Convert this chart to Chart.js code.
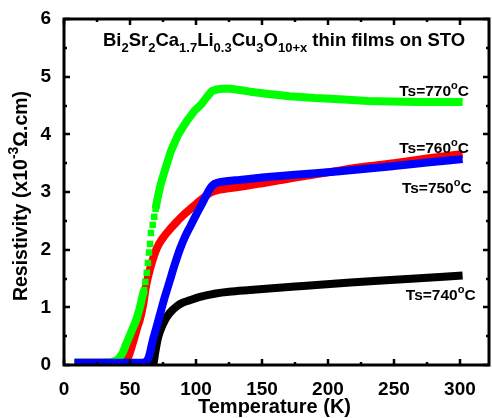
<!DOCTYPE html>
<html>
<head>
<meta charset="utf-8">
<script src="https://cdn.jsdelivr.net/npm/chart.js@4.4.1/dist/chart.umd.min.js"></script>
<style>
  html, body { margin: 0; padding: 0; background: #fff; }
  #wrap { width: 492px; height: 418px; position: relative; }
</style>
</head>
<body>
<div id="wrap"><canvas id="c" width="492" height="418"></canvas></div>
<script>
// ---- Data ----
const xTicks = [0, 50, 100, 150, 200, 250, 300];
const yTicks = [0, 1, 2, 3, 4, 5, 6];

// Ts = 770 °C (green)
const tempG = [8, 20, 30, 36, 40, 42.5, 44.7, 47, 50, 52.5, 55, 57.5, 59,
  60.6, 61.6, 62.7, 63.6, 64.4, 65.2, 65.9, 67.2, 68.4, 69.4,
  70.7, 73.2, 77, 81, 86.6, 93, 99, 104, 108, 112, 116, 120, 126, 133, 141, 155, 171, 190, 209, 230, 247, 270, 302];
const rhoG = [0.04, 0.04, 0.04, 0.05, 0.08, 0.14, 0.22, 0.36, 0.52, 0.66, 0.8, 1.0, 1.15,
  1.30, 1.44, 1.60, 1.77, 1.95, 2.10, 2.29, 2.43, 2.57, 2.71,
  2.87, 3.13, 3.42, 3.71, 4.0, 4.23, 4.41, 4.52, 4.64, 4.75, 4.78, 4.79, 4.79, 4.77, 4.74, 4.70, 4.66, 4.63, 4.61, 4.58, 4.57, 4.56, 4.56];
// range of the green curve drawn as separate square symbols
const greenSymbolsFrom = 60.6, greenSymbolsTo = 69.4;

// Ts = 760 °C (red)
const tempR = [8, 20, 30, 40, 46, 48, 50, 53, 55.5, 57.6, 60, 62, 65, 69, 72, 75.5, 79, 84, 90.4, 95.5, 101, 106.8, 112, 118, 133, 150, 175, 200, 225, 250, 275, 302];
const rhoR = [0.04, 0.04, 0.04, 0.04, 0.05, 0.1, 0.22, 0.45, 0.65, 0.8, 1.05, 1.35, 1.65, 1.95, 2.1, 2.22, 2.32, 2.45, 2.6, 2.7, 2.81, 2.92, 3.0, 3.04, 3.09, 3.15, 3.25, 3.34, 3.43, 3.5, 3.58, 3.66];

// Ts = 750 °C (blue)
const tempB = [8, 20, 30, 40, 50, 60, 62, 64, 65, 67, 70, 73, 76, 80, 84, 88, 92, 96, 100, 104, 108, 111, 114, 118, 124, 133, 150, 175, 209, 250, 275, 302];
const rhoB = [0.04, 0.04, 0.04, 0.04, 0.04, 0.04, 0.06, 0.12, 0.2, 0.4, 0.65, 0.9, 1.15, 1.45, 1.75, 2.02, 2.24, 2.42, 2.6, 2.77, 2.95, 3.07, 3.14, 3.17, 3.19, 3.21, 3.25, 3.3, 3.36, 3.45, 3.51, 3.57];

// Ts = 740 °C (black)
const tempK = [8, 30, 50, 60, 67, 68, 69, 71, 73, 76.5, 80, 85.6, 90, 95, 103, 115, 125, 141, 175, 217, 260, 302];
const rhoK = [0.02, 0.02, 0.02, 0.02, 0.02, 0.05, 0.2, 0.45, 0.6, 0.78, 0.9, 1.02, 1.08, 1.12, 1.18, 1.24, 1.27, 1.3, 1.36, 1.43, 1.49, 1.55];

const seriesNames = ['Ts=770', 'Ts=760', 'Ts=750', 'Ts=740'];
// label anchor (data coords of the text baseline start)
const labelT = [254, 254, 256, 259];
const labelR = [4.66, 3.68, 2.98, 1.12];

const FONT = '"Liberation Sans", Arial, sans-serif';

function pts(xs, ys) { return xs.map((x, i) => ({ x: x, y: ys[i] })); }

function richWidth(ctx, parts, size) {
  let w = 0;
  for (const [t, k] of parts) {
    const s = k === 'n' ? size : Math.round(size * 0.72);
    ctx.font = 'bold ' + s + 'px ' + FONT;
    w += ctx.measureText(t).width;
  }
  return w;
}
function drawRich(ctx, parts, x, y, size, align) {
  let w = richWidth(ctx, parts, size);
  let cx = align === 'center' ? x - w / 2 : x;
  ctx.textBaseline = 'alphabetic';
  ctx.textAlign = 'left';
  for (const [t, k] of parts) {
    const s = k === 'n' ? size : Math.round(size * 0.72);
    ctx.font = 'bold ' + s + 'px ' + FONT;
    let dy = 0;
    if (k === 'sub') dy = size * 0.3;
    if (k === 'sup') dy = -size * 0.45;
    ctx.fillText(t, cx, y + dy);
    cx += ctx.measureText(t).width;
  }
}

const decor = {
  id: 'decor',
  afterDraw(chart) {
    const ctx = chart.ctx;
    const a = chart.chartArea;
    const xs = chart.scales.x, ys = chart.scales.y;
    ctx.save();
    ctx.fillStyle = '#000';
    ctx.strokeStyle = '#000';
    ctx.lineWidth = 3;
    ctx.strokeRect(a.left, a.top, a.right - a.left, a.bottom - a.top);
    ctx.lineWidth = 2.5;
    ctx.beginPath();
    for (let v = 0; v <= xs.max; v += 25) {
      const px = Math.round(xs.getPixelForValue(v));
      const L = (v % 50 === 0) ? 6 : 3;
      ctx.moveTo(px, a.bottom); ctx.lineTo(px, a.bottom - L);
      ctx.moveTo(px, a.top); ctx.lineTo(px, a.top + L);
    }
    for (let v = 0; v <= ys.max + 1e-9; v += 0.5) {
      const py = Math.round(ys.getPixelForValue(v));
      const L = (Math.abs(v - Math.round(v)) < 1e-9) ? 6 : 3;
      ctx.moveTo(a.left, py); ctx.lineTo(a.left + L, py);
      ctx.moveTo(a.right, py); ctx.lineTo(a.right - L, py);
    }
    ctx.stroke();

    const title = [['Bi', 'n'], ['2', 'sub'], ['Sr', 'n'], ['2', 'sub'], ['Ca', 'n'], ['1.7', 'sub'],
      ['Li', 'n'], ['0.3', 'sub'], ['Cu', 'n'], ['3', 'sub'], ['O', 'n'], ['10+x', 'sub'], [' thin films on STO', 'n']];
    drawRich(ctx, title, xs.getPixelForValue(29.5), ys.getPixelForValue(5.53), 18.5, 'left');

    for (let i = 0; i < seriesNames.length; i++) {
      const parts = [[seriesNames[i], 'n'], ['o', 'sup'], ['C', 'n']];
      drawRich(ctx, parts, xs.getPixelForValue(labelT[i]), ys.getPixelForValue(labelR[i]), 15.5, 'left');
    }

    drawRich(ctx, [['Temperature (K)', 'n']], (a.left + a.right) / 2 - 2, 413, 20, 'center');
    ctx.save();
    ctx.translate(27, 196);
    ctx.rotate(-Math.PI / 2);
    drawRich(ctx, [['Resistivity (x10', 'n'], ['-3', 'sup'], ['\u03A9.cm)', 'n']], 0, 0, 19.5, 'center');
    ctx.restore();
    ctx.restore();
  }
};

const lw = 8;
new Chart(document.getElementById('c'), {
  type: 'scatter',
  data: {
    datasets: [
      { label: 'Ts=750', data: pts(tempB, rhoB), showLine: true, borderColor: '#0000ff', backgroundColor: '#0000ff',
        borderWidth: lw, pointRadius: 0, order: 0, borderJoinStyle: 'round', cubicInterpolationMode: 'monotone' },
      { label: 'Ts=770', data: pts(tempG, rhoG), showLine: true, borderColor: '#00ff00', backgroundColor: '#00ff00',
        borderWidth: lw, order: 1, borderJoinStyle: 'round', pointStyle: 'rect', pointBorderWidth: 0,
        pointRadius: (c) => (c.raw && c.raw.x >= greenSymbolsFrom && c.raw.x <= greenSymbolsTo) ? 4.6 : 0,
        segment: {
          borderColor: (c) => (c.p0.parsed.x >= greenSymbolsFrom && c.p1.parsed.x <= greenSymbolsTo) ? 'rgba(0,0,0,0)' : undefined
        } },
      { label: 'Ts=760', data: pts(tempR, rhoR), showLine: true, borderColor: '#ff0000', backgroundColor: '#ff0000',
        borderWidth: lw, pointRadius: 0, order: 2, borderJoinStyle: 'round', cubicInterpolationMode: 'monotone' },
      { label: 'Ts=740', data: pts(tempK, rhoK), showLine: true, borderColor: '#000000', backgroundColor: '#000000',
        borderWidth: lw, pointRadius: 0, order: 3, borderJoinStyle: 'round', cubicInterpolationMode: 'monotone' }
    ]
  },
  options: {
    responsive: false,
    animation: false,
    devicePixelRatio: 1,
    layout: { padding: { top: 19, right: 3, left: 0, bottom: 0 } },
    plugins: { legend: { display: false }, tooltip: { enabled: false }, title: { display: false } },
    scales: {
      x: {
        type: 'linear', min: 0, max: 322,
        grid: { display: false }, border: { display: false },
        afterBuildTicks: (s) => { s.ticks = xTicks.map(v => ({ value: v })); },
        afterFit: (s) => { s.height = 53; },
        ticks: { color: '#000', padding: 5, font: { family: FONT, size: 19, weight: 'bold' }, maxRotation: 0 }
      },
      y: {
        type: 'linear', min: 0, max: 6,
        grid: { display: false }, border: { display: false },
        afterBuildTicks: (s) => { s.ticks = yTicks.map(v => ({ value: v })); },
        afterFit: (s) => { s.width = 64; },
        ticks: { color: '#000', padding: 5, font: { family: FONT, size: 19, weight: 'bold' } }
      }
    }
  },
  plugins: [decor]
});
</script>
</body>
</html>
